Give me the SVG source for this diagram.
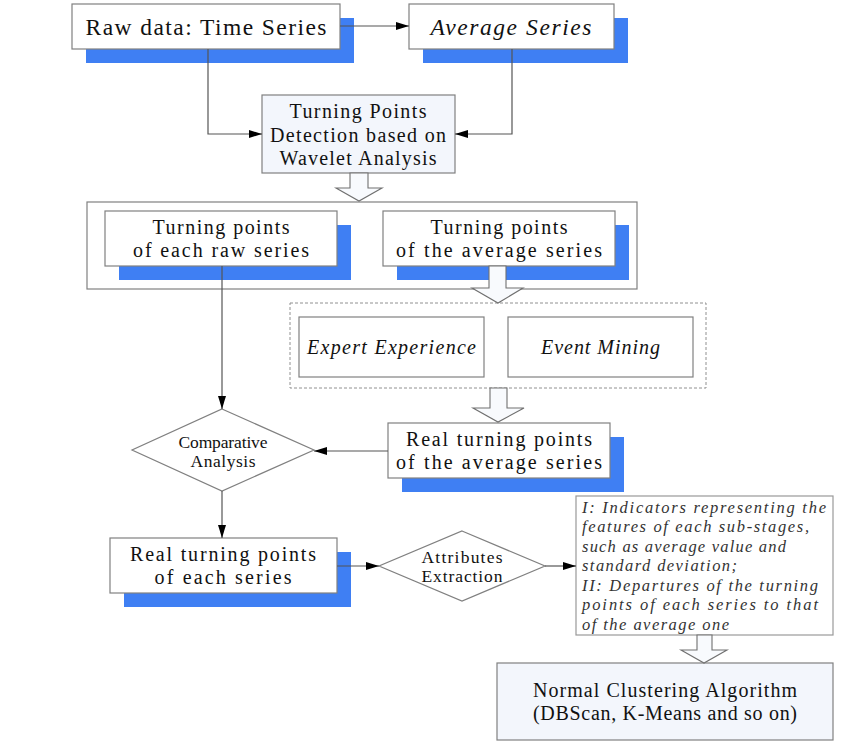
<svg xmlns="http://www.w3.org/2000/svg" width="850" height="745" viewBox="0 0 850 745">
<style>
text{font-family:"Liberation Serif","Times New Roman",serif;fill:#111;}
.c{text-anchor:middle;}
.big{font-size:23.5px;}
.md{font-size:20px;}
.sm{font-size:17.5px;}
.it{font-style:italic;}
.note{font-size:16.5px;font-style:italic;fill:#333;}
.box{fill:#fff;stroke:#808080;stroke-width:1.2;}
.lb{fill:#f3f6fc;stroke:#808080;stroke-width:1.2;}
.sh{fill:#3f7ff3;}
.con{fill:none;stroke:#555;stroke-width:1.2;}
.blk{fill:#f8fafd;stroke:#707070;stroke-width:1.1;}
.grp{fill:none;stroke:#808080;stroke-width:1.2;}
.dash{fill:none;stroke:#909090;stroke-width:1;stroke-dasharray:3 2;}
</style>
<defs>
<marker id="ah" viewBox="0 0 13 8" refX="13" refY="4" markerWidth="13" markerHeight="8" markerUnits="userSpaceOnUse" orient="auto">
<path d="M0,0 L13,4 L0,8 Z" fill="#000"/>
</marker>
</defs>
<rect width="850" height="745" fill="#fff"/>

<g id="group-turning">
<rect class="grp" x="87" y="202" width="550" height="87"/>
</g>
<g id="group-knowledge">
<rect class="dash" x="290" y="303" width="416" height="85"/>
</g>

<g id="raw">
<rect class="sh" x="86" y="18" width="268" height="45"/>
<rect class="box" x="72" y="4" width="268" height="45"/>
<text class="c big" x="206" y="34.5" textLength="241">Raw data: Time Series</text>
</g>
<g id="average">
<rect class="sh" x="423" y="18" width="205" height="45"/>
<rect class="box" x="409" y="4" width="205" height="45"/>
<text class="c big it" x="511" y="34.5" textLength="161">Average Series</text>
</g>
<g id="detection">
<rect class="lb" x="262" y="95" width="193" height="78"/>
<text class="c md" x="358" y="117.5" textLength="137">Turning Points</text>
<text class="c md" x="358" y="141.5" textLength="176">Detection based on</text>
<text class="c md" x="358" y="164.5" textLength="157">Wavelet Analysis</text>
</g>
<g id="tp-raw">
<rect class="sh" x="119" y="225" width="232" height="55"/>
<rect class="box" x="105" y="211" width="232" height="55"/>
<text class="c md" x="221" y="233.5" textLength="137">Turning points</text>
<text class="c md" x="221" y="256.5" textLength="176">of each raw series</text>
</g>
<g id="tp-avg">
<rect class="sh" x="397" y="225" width="232" height="55"/>
<rect class="box" x="383" y="211" width="232" height="55"/>
<text class="c md" x="499" y="233.5" textLength="137">Turning points</text>
<text class="c md" x="499" y="256.5" textLength="206">of the average series</text>
</g>
<g id="expert">
<rect class="box" x="299" y="317" width="185" height="60"/>
<text class="c md it" x="391.5" y="353.5" textLength="169">Expert Experience</text>
</g>
<g id="event">
<rect class="box" x="508" y="317" width="185" height="60"/>
<text class="c md it" x="600.5" y="353.5" textLength="119">Event Mining</text>
</g>
<g id="comparative">
<polygon class="box" points="222,409 314,450 222,491 132,450"/>
<text class="c sm" x="223" y="447.5" textLength="89">Comparative</text>
<text class="c sm" x="223" y="466.5" textLength="65">Analysis</text>
</g>
<g id="real-avg">
<rect class="sh" x="402" y="437" width="222" height="55"/>
<rect class="box" x="388" y="423" width="222" height="55"/>
<text class="c md" x="499" y="445.5" textLength="186">Real turning points</text>
<text class="c md" x="499" y="468.5" textLength="206">of the average series</text>
</g>
<g id="real-each">
<rect class="sh" x="124" y="552" width="227" height="55"/>
<rect class="box" x="110" y="538" width="227" height="55"/>
<text class="c md" x="223" y="560.5" textLength="186">Real turning points</text>
<text class="c md" x="223" y="583.5" textLength="137">of each series</text>
</g>
<g id="attributes">
<polygon class="box" points="462,531 545,566 462,601 379,566"/>
<text class="c sm" x="462" y="562.5" textLength="81">Attributes</text>
<text class="c sm" x="462" y="581.5" textLength="81">Extraction</text>
</g>
<g id="indicators">
<rect class="box" x="576" y="496" width="257" height="139" style="stroke:#999"/>
<text class="note" x="582" y="512.5" textLength="244">I: Indicators representing the</text>
<text class="note" x="582" y="532" textLength="227">features of each sub-stages,</text>
<text class="note" x="582" y="551.5" textLength="204">such as average value and</text>
<text class="note" x="582" y="571" textLength="155">standard deviation;</text>
<text class="note" x="582" y="590.5" textLength="236">II: Departures of the turning</text>
<text class="note" x="582" y="610" textLength="236">points of each series to that</text>
<text class="note" x="582" y="629.5" textLength="147">of the average one</text>
</g>
<g id="clustering">
<rect class="lb" x="497" y="663" width="336" height="77"/>
<text class="c md" x="665" y="696.5" textLength="264">Normal Clustering Algorithm</text>
<text class="c md" x="665" y="719.5" textLength="264">(DBScan, K-Means and so on)</text>
</g>

<g id="connectors">
<path class="con" d="M340,26 H409" marker-end="url(#ah)"/>
<path class="con" d="M208,49 V134 H262" marker-end="url(#ah)"/>
<path class="con" d="M512,49 V134 H455" marker-end="url(#ah)"/>
<path class="con" d="M222,266 V409" marker-end="url(#ah)"/>
<path class="con" d="M388,451 H314" marker-end="url(#ah)"/>
<path class="con" d="M222,491 V538" marker-end="url(#ah)"/>
<path class="con" d="M337,566 H379" marker-end="url(#ah)"/>
<path class="con" d="M545,566 H576" marker-end="url(#ah)"/>
<polygon class="blk" points="350,173 350,188 336,188 359,201 382,188 368,188 368,173"/>
<polygon class="blk" points="489,266 489,288 472,288 498,303 523,288 506,288 506,266"/>
<polygon class="blk" points="490,388 490,408 473,408 498,422 524,408 507,408 507,388"/>
<polygon class="blk" points="697,635 697,650 681,650 704,663 727,650 712,650 712,635"/>
</g>
</svg>
